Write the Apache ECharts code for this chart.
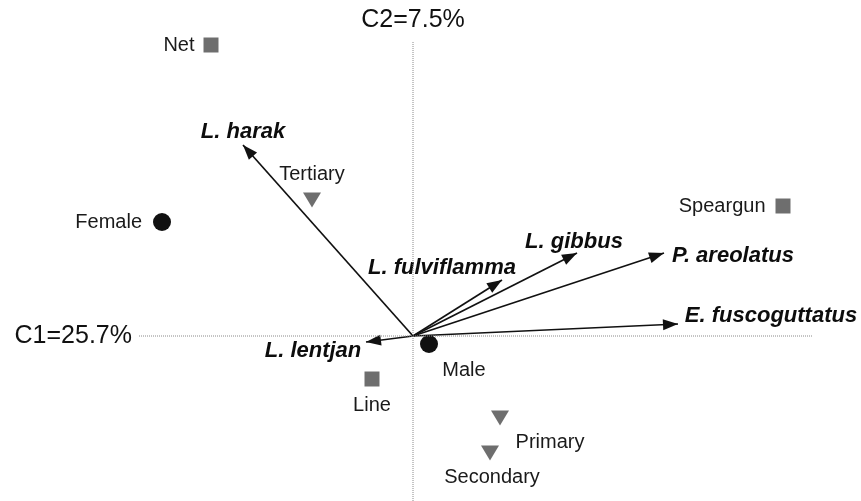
<!DOCTYPE html>
<html>
<head>
<meta charset="utf-8">
<title>CCA biplot</title>
<script src="https://cdn.jsdelivr.net/npm/echarts@6/dist/echarts.min.js"></script>
<style>
  html, body { margin: 0; padding: 0; background: #fff; }
  #chart { width: 861px; height: 501px; }
</style>
</head>
<body>
<div id="chart"></div>
<script>
// axis titles
var axisX = 'C1=25.7%';
var axisY = 'C2=7.5%';
var axisXExtent = [-2.74, 4.00];   // dotted C1 line
var axisYExtent = [-1.65, 2.94];   // dotted C2 line

// species (arrows from origin)
var species = ['L. harak', 'L. fulviflamma', 'L. gibbus', 'P. areolatus', 'E. fuscoguttatus', 'L. lentjan'];
var speciesX = [-1.70, 0.89, 1.64, 2.51, 2.65, -0.47];
var speciesY = [1.91, 0.56, 0.83, 0.83, 0.12, -0.06];

// gear (squares)
var gear = ['Net', 'Speargun', 'Line'];
var gearX = [-2.02, 3.70, -0.41];
var gearY = [2.91, 1.30, -0.43];

// sex (circles)
var sex = ['Female', 'Male'];
var sexX = [-2.51, 0.16];
var sexY = [1.14, -0.08];

// education (triangles)
var edu = ['Tertiary', 'Primary', 'Secondary'];
var eduX = [-1.01, 0.87, 0.77];
var eduY = [1.36, -0.82, -1.17];

var chart = echarts.init(document.getElementById('chart'))

var FONT = '"Liberation Sans", Arial, sans-serif'
var lblBase = { show: true, fontFamily: FONT, fontSize: 20, color: '#1a1a1a' }

// label placement (offsets only)
var speciesOffset = [[0, -13], [-60, -12], [-3, -11], [69, 3], [93, -8], [-53, 9]]
var gearLabel = [
  { position: 'left', distance: 9 },
  { position: 'left', distance: 10 },
  { position: 'inside', offset: [0, 26] }
]
var sexLabel = [
  { position: 'left', distance: 11 },
  { position: 'inside', offset: [35, 26] }
]
var eduLabel = [
  { position: 'inside', offset: [0, -26] },
  { position: 'inside', offset: [50, 24] },
  { position: 'inside', offset: [2, 24] }
]

function pts(names, xs, ys, labels) {
  return names.map(function (n, i) {
    return {
      name: n,
      value: [xs[i], ys[i]],
      label: Object.assign({}, lblBase, labels[i], { formatter: n })
    }
  })
}

// arrow heads: tip sits on the arrow end point
var HEAD_W = 11, HEAD_L = 15
var heads = species.map(function (s, i) {
  var th = Math.atan2(speciesY[i], speciesX[i])   // x and y have the same px/unit
  return {
    value: [speciesX[i], speciesY[i]],
    symbolRotate: th * 180 / Math.PI - 90,
    symbolOffset: [-HEAD_L / 2 * Math.cos(th), HEAD_L / 2 * Math.sin(th)]
  }
})

var option = {
  animation: false,
  backgroundColor: '#fff',
  grid: { left: 0, right: 0, top: 0, bottom: 0 },
  xAxis: { type: 'value', min: -4.13, max: 4.48, show: false },
  yAxis: { type: 'value', min: -1.65, max: 3.36, show: false },
  series: [
    // dotted axes
    {
      type: 'line', symbol: 'none', silent: true,
      lineStyle: { color: '#8a8a8a', width: 1, type: 'dotted' },
      data: [[axisXExtent[0], 0], [axisXExtent[1], 0]]
    },
    {
      type: 'line', symbol: 'none', silent: true,
      lineStyle: { color: '#8a8a8a', width: 1, type: 'dotted' },
      data: [[0, axisYExtent[1]], [0, axisYExtent[0]]]
    },
    // axis titles
    {
      type: 'scatter', symbolSize: 0, silent: true,
      itemStyle: { opacity: 1 },
      data: [
        { value: [axisXExtent[0], 0], label: Object.assign({}, lblBase, { fontSize: 25, position: 'left', distance: 7, formatter: axisX, color: '#111' }) },
        { value: [0, axisYExtent[1]], label: Object.assign({}, lblBase, { fontSize: 25, position: 'top', distance: 9, formatter: axisY, color: '#111' }) }
      ]
    },
    // arrow shafts
    {
      type: 'lines', coordinateSystem: 'cartesian2d', silent: true,
      symbol: 'none',
      lineStyle: { color: '#111', width: 1.7, opacity: 1 },
      data: species.map(function (s, i) {
        return { coords: [[0, 0], [speciesX[i], speciesY[i] ]] }
      })
    },
    // arrow heads
    {
      type: 'scatter', symbol: 'triangle', symbolSize: [HEAD_W, HEAD_L], silent: true,
      itemStyle: { color: '#111', opacity: 1 },
      data: heads
    },
    // species labels
    {
      type: 'scatter', symbolSize: 0, silent: true,
      itemStyle: { opacity: 1 },
      data: species.map(function (s, i) {
        return {
          value: [speciesX[i], speciesY[i]],
          label: {
            show: true, position: 'inside', offset: speciesOffset[i], formatter: s,
            fontFamily: FONT, fontSize: 22, fontWeight: 'bold', fontStyle: 'italic', color: '#0d0d0d'
          }
        }
      })
    },
    // gear
    {
      type: 'scatter', symbol: 'rect', symbolSize: 15, silent: true,
      itemStyle: { color: '#6e6e6e', opacity: 1 },
      data: pts(gear, gearX, gearY, gearLabel)
    },
    // sex
    {
      type: 'scatter', symbol: 'circle', symbolSize: 18, silent: true,
      itemStyle: { color: '#111', opacity: 1 },
      data: pts(sex, sexX, sexY, sexLabel)
    },
    // education
    {
      type: 'scatter', symbol: 'triangle', symbolRotate: 180, symbolSize: [18, 15], silent: true,
      itemStyle: { color: '#6e6e6e', opacity: 1 },
      data: pts(edu, eduX, eduY, eduLabel)
    }
  ]
}

chart.setOption(option)
</script>
</body>
</html>
